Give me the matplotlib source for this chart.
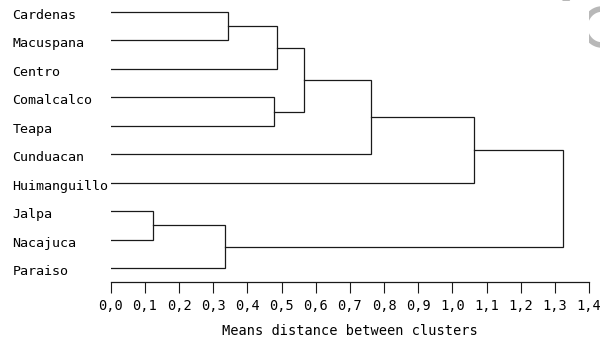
import matplotlib
matplotlib.use("Agg")
import matplotlib.pyplot as plt
import numpy as np

# municipalities, top to bottom in dendrogram order
leaves = ["Cardenas", "Macuspana", "Centro", "Comalcalco", "Teapa",
          "Cunduacan", "Huimanguillo", "Jalpa", "Nacajuca", "Paraiso"]

# merge steps: (left node, right node, distance); new nodes get ids 10, 11, ...
merge_left = [7, 10, 0, 3, 12, 14, 15, 16, 17]
merge_right = [8, 9, 1, 4, 2, 13, 5, 6, 11]
merge_dist = [0.125, 0.336, 0.343, 0.479, 0.487, 0.567, 0.761, 1.063, 1.325]

ticks = [i / 10 for i in range(15)]
tick_labels = [f"{t:.1f}".replace(".", ",") for t in ticks]

plt.rcParams["font.family"] = ["DejaVu Sans Mono", "DejaVu Sans"]

fig = plt.figure(figsize=(6, 3.56), dpi=100)
W, H = 600, 356
x0, x1 = 110.7, 589.0
y_top, y_bot = 0.6, 282.0
ax = fig.add_axes([x0 / W, (H - y_bot) / H, (x1 - x0) / W, (y_bot - y_top) / H])

# node positions: (y position, distance)
pos = {i: (float(i), 0.0) for i in range(len(leaves))}
for k, (a, b, d) in enumerate(zip(merge_left, merge_right, merge_dist)):
    ya, da = pos[a]
    yb, db = pos[b]
    ax.plot([da, d, d, db], [ya, ya, yb, yb], color="#1a1a1a", lw=0.9,
            solid_joinstyle="miter")
    pos[len(leaves) + k] = ((ya + yb) / 2, d)

for i, name in enumerate(leaves):
    ax.text(-0.288, i + 0.12, name, ha="left", va="center", fontsize=9.6,
            color="black", clip_on=False)

ax.set_xlim(0, 1.4)
ax.set_ylim(9.49, -0.4)
for s in ["top", "right", "left"]:
    ax.spines[s].set_visible(False)
ax.spines["bottom"].set_linewidth(0.9)
ax.spines["bottom"].set_color("#1a1a1a")
ax.set_yticks([])
ax.set_xticks(ticks)
ax.set_xticklabels(tick_labels, fontsize=9.8)
ax.tick_params(axis="x", length=8, width=0.8, color="#1a1a1a", pad=4)
ax.set_xlabel("Means distance between clusters", fontsize=9.8, labelpad=8)

# faint watermark fragment in the top-right corner (pixel coordinates)
wm = fig.add_axes([0, 0, 1, 1], zorder=-1)
wm.set_xlim(0, W)
wm.set_ylim(H, 0)
wm.axis("off")
t = np.radians(np.linspace(80, 280, 80))
wm.plot(602 + 17 * np.cos(t), 27 - 18 * np.sin(t), color="#b8b8b8", lw=4,
        solid_capstyle="butt")
wm.plot([563, 574], [-3, 12], color="#b8b8b8", lw=5, solid_capstyle="butt")

fig.savefig("out.png", dpi=100)
